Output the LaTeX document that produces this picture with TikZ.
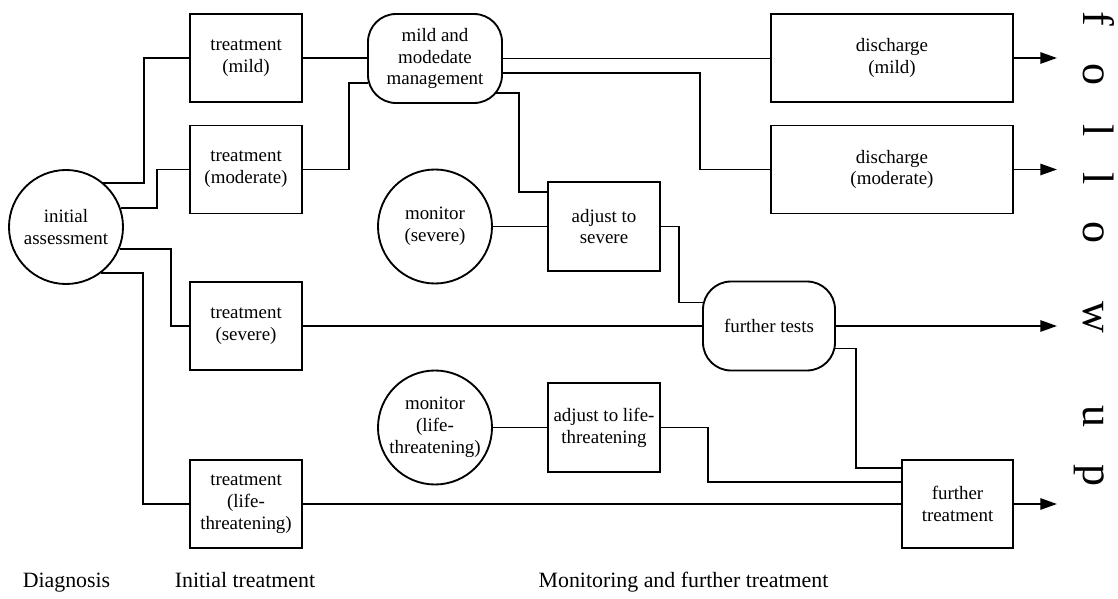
\documentclass[tikz,border=0pt]{standalone}
\usepackage{fontspec}
\setmainfont{Liberation Serif}
\usetikzlibrary{calc,arrows.meta}
\begin{document}
\begin{tikzpicture}[x=0.75pt,y=-0.75pt,line width=1.4pt,
  txt/.style={align=center,font=\fontsize{14.2}{16.4}\selectfont},
  box/.style={draw,rectangle,txt,minimum width=84pt,minimum height=66pt,inner sep=2pt},
  widebox/.style={box,minimum width=181.5pt},
  roundbox/.style={draw,rectangle,txt,rounded corners=21pt,minimum width=100.5pt,minimum height=66.75pt,inner sep=2pt},
  circ/.style={draw,circle,txt,minimum size=85.5pt,inner sep=0pt},
  lbl/.style={anchor=base,font=\fontsize{16.4}{19}\selectfont},
  outarrow/.style={-{Triangle[length=12.5pt,width=8.5pt]}}]
\useasboundingbox (0,0) rectangle (1118,599);

% nodes
\node[circ] (init) at (66,227) {initial\\assessment};
\node[box] (tmild) at (246,58) {treatment\\(mild)};
\node[box] (tmod) at (246,169.5) {treatment\\(moderate)};
\node[box] (tsev) at (246,326) {treatment\\(severe)};
\node[box] (tlife) at (246,504) {treatment\\(life-\\threatening)};
\node[roundbox] (mmm) at (435,58.5) {mild and\\modedate\\management};
\node[circ] (msev) at (435,226.5) {monitor\\(severe)};
\node[box,minimum height=66.75pt] (adjsev) at (604,226.5) {adjust to\\severe};
\node[roundbox,minimum width=99pt] (ftests) at (769,326) {further tests};
\node[circ] (mlife) at (435,427.5) {monitor\\(life-\\threatening)};
\node[box,minimum height=66.75pt] (adjlife) at (604,427.5) {adjust to life-\\threatening};
\node[widebox] (dmild) at (892,58) {discharge\\(mild)};
\node[widebox] (dmod) at (892,169.5) {discharge\\(moderate)};
\node[box,minimum width=83.25pt] (ftreat) at (957.5,504) {further\\treatment};

% labels
\node[lbl] (ldiag) at (66.5,587) {Diagnosis};
\node[lbl] (linit) at (245,587) {Initial treatment};
\node[lbl] (lmon) at (683.5,587) {Monitoring and further treatment};
\node[rotate=-90,anchor=base west,inner sep=0pt,font=\fontsize{33}{36}\selectfont] (fu) at (1083,18)
  {\makebox[0pt]{f}\hspace{42pt}\makebox[0pt]{o}\hspace{42pt}\makebox[0pt]{l}\hspace{36pt}\makebox[0pt]{l}\hspace{40.5pt}\makebox[0pt]{o}\hspace{63pt}\makebox[0pt]{w}\hspace{75pt}\makebox[0pt]{u}\hspace{44.25pt}\makebox[0pt]{p}};

% bend coordinates
\coordinate (xa) at (144,0);
\coordinate (xb) at (157,0);
\coordinate (xc) at (171,0);
\coordinate (xd) at (143,0);
\coordinate (xe) at (349,0);
\coordinate (xf) at (700,0);
\coordinate (xg) at (519,0);
\coordinate (xh) at (679,0);
\coordinate (xi) at (856,0);
\coordinate (xj) at (708,0);
\coordinate (xo) at (1057,0);
\coordinate (mmmL) at ($(mmm.west)+(1.2,24.5)$);
\coordinate (mmmR1) at ($(mmm.east)+(0,14.5)$);
\coordinate (mmmR2) at ($(mmm.east)+(-6.6,34.5)$);
\coordinate (adjsevT) at ($(adjsev.west)+(0,-34.5)$);
\coordinate (ftL) at ($(ftests.west)+(0.9,-23.5)$);
\coordinate (ftR) at ($(ftests.east)+(-0.6,22.5)$);
\coordinate (ftrT) at ($(ftreat.west)+(0,-36)$);
\coordinate (ftrM) at ($(ftreat.west)+(0,-22)$);

% connectors
\draw (init.50.5) -| (xa |- tmild.west) -- (tmild.west);
\draw (init.19.5) -| (xb |- tmod.west) -- (tmod.west);
\draw (init.-22.7) -| (xc |- tsev.west) -- (tsev.west);
\draw (init.-53.8) -| (xd |- tlife.west) -- (tlife.west);
\draw (tmild.east) -- (tmild.east -| mmm.west);
\draw (tmod.east) -| (xe |- mmmL) -- (mmmL);
\draw (mmm.east) -- (mmm.east -| dmild.west);
\draw (mmmR1) -| (xf |- dmod.west) -- (dmod.west);
\draw (mmmR2) -| (xg |- adjsevT) -- (adjsevT);
\draw (msev.east) -- (msev.east -| adjsev.west);
\draw (adjsev.east) -| (xh |- ftL) -- (ftL);
\draw (tsev.east) -- (tsev.east -| ftests.west);
\draw (ftR) -| (xi |- ftrT) -- (ftrT);
\draw (mlife.east) -- (mlife.east -| adjlife.west);
\draw (adjlife.east) -| (xj |- ftrM) -- (ftrM);
\draw (tlife.east) -- (tlife.east -| ftreat.west);
\draw[outarrow] (dmild.east) -- (dmild.east -| xo);
\draw[outarrow] (dmod.east) -- (dmod.east -| xo);
\draw[outarrow] (ftests.east) -- (ftests.east -| xo);
\draw[outarrow] (ftreat.east) -- (ftreat.east -| xo);
\end{tikzpicture}
\end{document}
